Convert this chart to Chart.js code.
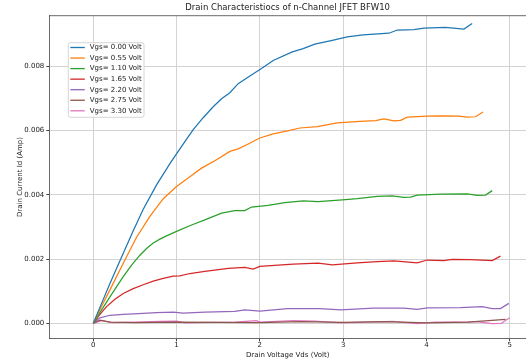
<!DOCTYPE html>
<html>
<head>
<meta charset="utf-8">
<script src="https://cdn.jsdelivr.net/npm/chart.js@4.4.1/dist/chart.umd.min.js"></script>
<style>
  body { margin: 0; background: #fff; }
  #wrap { width: 526px; height: 363px; }
</style>
</head>
<body>
<div id="wrap"><canvas id="myChart" width="526" height="363"></canvas></div>
<script>
// Vds (Volt) and Id (Amp), one pair per Vgs curve
var labels = ['Vgs= 0.00 Volt', 'Vgs= 0.55 Volt', 'Vgs= 1.10 Volt', 'Vgs= 1.65 Volt',
              'Vgs= 2.20 Volt', 'Vgs= 2.75 Volt', 'Vgs= 3.30 Volt'];

var vds0 = [0, 0.1, 0.2, 0.36, 0.48, 0.6, 0.76, 0.92, 1.04, 1.2, 1.32, 1.44, 1.54, 1.64, 1.74, 1.88, 2.02, 2.16, 2.39, 2.52, 2.66, 2.87, 3.05, 3.24, 3.55, 3.65, 3.85, 3.97, 4.23, 4.45, 4.55];
var id0 = [0, 0.00062, 0.00124, 0.00218, 0.00288, 0.00355, 0.00431, 0.00497, 0.00543, 0.00603, 0.0064, 0.00674, 0.00699, 0.00718, 0.00746, 0.0077, 0.00793, 0.00818, 0.00845, 0.00855, 0.00869, 0.00881, 0.00892, 0.00898, 0.00903, 0.00913, 0.00914, 0.00919, 0.00921, 0.00916, 0.00933];

var vds1 = [0, 0.1, 0.2, 0.36, 0.52, 0.68, 0.84, 1.0, 1.16, 1.3, 1.48, 1.64, 1.74, 1.86, 2.0, 2.16, 2.32, 2.48, 2.69, 2.93, 3.2, 3.39, 3.49, 3.61, 3.69, 3.77, 4.01, 4.19, 4.39, 4.49, 4.59, 4.68];
var id1 = [0, 0.00053, 0.00104, 0.00187, 0.00268, 0.00333, 0.00388, 0.00426, 0.00456, 0.00483, 0.00509, 0.00535, 0.00543, 0.00558, 0.00577, 0.0059, 0.00598, 0.00608, 0.00612, 0.00624, 0.00629, 0.00631, 0.00636, 0.0063, 0.00632, 0.00642, 0.00645, 0.00646, 0.00645, 0.00642, 0.00643, 0.00658];

var vds2 = [0, 0.1, 0.2, 0.36, 0.46, 0.56, 0.64, 0.72, 0.8, 0.88, 1.0, 1.18, 1.34, 1.54, 1.7, 1.82, 1.9, 2.1, 2.3, 2.52, 2.7, 2.99, 3.17, 3.41, 3.59, 3.73, 3.81, 3.89, 4.17, 4.49, 4.61, 4.71, 4.79];
var id2 = [0, 0.00042, 0.00082, 0.00145, 0.00181, 0.00212, 0.00233, 0.0025, 0.00262, 0.00272, 0.00286, 0.00306, 0.00322, 0.00343, 0.00351, 0.00351, 0.00362, 0.00367, 0.00376, 0.00381, 0.00379, 0.00384, 0.00388, 0.00395, 0.00397, 0.00392, 0.00393, 0.00399, 0.00402, 0.00403, 0.00398, 0.00399, 0.00413];

var vds3 = [0, 0.08, 0.16, 0.26, 0.36, 0.48, 0.6, 0.72, 0.84, 0.96, 1.04, 1.16, 1.34, 1.62, 1.82, 1.92, 2.0, 2.4, 2.7, 2.87, 3.17, 3.41, 3.61, 3.89, 4.01, 4.21, 4.31, 4.53, 4.79, 4.89];
var id3 = [0, 0.00028, 0.00052, 0.00075, 0.00093, 0.00108, 0.0012, 0.00131, 0.0014, 0.00147, 0.00148, 0.00155, 0.00162, 0.00171, 0.00174, 0.00169, 0.00177, 0.00184, 0.00187, 0.00182, 0.00188, 0.00192, 0.00194, 0.00188, 0.00197, 0.00195, 0.00199, 0.00198, 0.00195, 0.00209];

var vds4 = [0, 0.08, 0.2, 0.36, 0.54, 0.76, 0.96, 1.08, 1.34, 1.7, 1.82, 2.0, 2.33, 2.72, 2.97, 3.36, 3.73, 3.89, 4.01, 4.41, 4.67, 4.79, 4.89, 4.99];
var id4 = [0, 0.00017, 0.00025, 0.00028, 0.0003, 0.00033, 0.00035, 0.00032, 0.00035, 0.00037, 0.00042, 0.00038, 0.00046, 0.00046, 0.00042, 0.00047, 0.00047, 0.00043, 0.00048, 0.00049, 0.00052, 0.00046, 0.00046, 0.00062];

var vds5 = [0, 0.08, 0.2, 0.5, 1.0, 1.5, 2.0, 2.5, 3.0, 3.5, 4.0, 4.5, 4.95];
var id5 = [0, 0.0001, 0.00004, 0.00002, 0.00004, 0.00003, 0.00002, 0.00005, 0.00003, 0.00005, 0.00001, 0.00004, 0.00012];

var vds6 = [0, 0.1, 0.24, 0.5, 0.8, 1.0, 1.1, 1.4, 1.7, 1.96, 2.0, 2.4, 2.66, 2.97, 3.3, 3.6, 3.89, 4.1, 4.5, 4.6, 4.79, 4.9, 5.0];
var id6 = [0, 0.00008, 0.00002, 0.00004, 0.00006, 0.00007, 0.00001, 0.00003, 0.00004, 0.00008, 0.00004, 0.00008, 0.00007, 0.00001, 0.00004, 0.00006, -0.00001, 0.00004, 0.00004, 0.00005, -0.00001, 0, 0.00017];

var xTicks = [0, 1, 2, 3, 4, 5];
var yTicks = [0, 0.002, 0.004, 0.006, 0.008];

var colors = ['#1f77b4', '#ff7f0e', '#2ca02c', '#d62728', '#9467bd', '#8c564b', '#e377c2'];
var vdsAll = [vds0, vds1, vds2, vds3, vds4, vds5, vds6];
var idAll = [id0, id1, id2, id3, id4, id5, id6];

var datasets = [];
for (var i = 0; i < labels.length; i++) {
  var pts = [];
  for (var j = 0; j < vdsAll[i].length; j++) {
    pts.push({ x: vdsAll[i][j], y: idAll[i][j] });
  }
  datasets.push({
    label: labels[i],
    data: pts,
    borderColor: colors[i],
    backgroundColor: colors[i],
    borderWidth: 1.25,
    pointRadius: 0,
    fill: false,
    tension: 0
  });
}

var FONT = 'DejaVu Sans';
var txt = '#222';

// legend box drawn inside the plot, top left, like matplotlib
var boxLegend = {
  id: 'boxLegend',
  afterDatasetsDraw: function (chart) {
    var ctx = chart.ctx;
    var x0 = 68.3, y0 = 42.7, w = 75.7, h = 74.6, step = 10.55;
    ctx.save();
    ctx.beginPath();
    ctx.roundRect(x0, y0, w, h, 2);
    ctx.fillStyle = 'rgba(255,255,255,0.85)';
    ctx.fill();
    ctx.strokeStyle = '#d6d6d6';
    ctx.lineWidth = 1;
    ctx.stroke();
    ctx.font = '7px "' + FONT + '"';
    ctx.textBaseline = 'middle';
    chart.data.datasets.forEach(function (ds, k) {
      var yy = y0 + 4.8 + k * step;
      ctx.strokeStyle = ds.borderColor;
      ctx.lineWidth = 1.3;
      ctx.beginPath();
      ctx.moveTo(x0 + 2, yy);
      ctx.lineTo(x0 + 16.5, yy);
      ctx.stroke();
      ctx.fillStyle = txt;
      ctx.fillText(ds.label, x0 + 21.5, yy);
    });
    ctx.restore();
  },
  // top spine
  afterDraw: function (chart) {
    var a = chart.chartArea, ctx = chart.ctx;
    ctx.save();
    ctx.strokeStyle = '#444';
    ctx.lineWidth = 0.8;
    ctx.beginPath();
    ctx.moveTo(a.left, a.top);
    ctx.lineTo(a.right, a.top);
    ctx.stroke();
    ctx.restore();
  }
};

var ctx = document.getElementById('myChart').getContext('2d');
var chart = new Chart(ctx, {
  type: 'line',
  data: { datasets: datasets },
  plugins: [boxLegend],
  options: {
    responsive: false,
    animation: false,
    layout: { padding: 0 },
    plugins: {
      legend: { display: false },
      tooltip: { enabled: false },
      title: {
        display: true,
        text: 'Drain Characteristiocs of n-Channel JFET BFW10',
        color: txt,
        fullSize: false,
        font: { family: FONT, size: 8.5, weight: 'normal' },
        padding: { top: 2.5, bottom: 3 }
      }
    },
    scales: {
      x: {
        type: 'linear',
        min: -0.528,
        max: 5.196,
        afterFit: function (s) { s.height = 24.7; },
        afterBuildTicks: function (s) { s.ticks = xTicks.map(function (v) { return { value: v }; }); },
        ticks: {
          color: txt,
          font: { family: FONT, size: 7 },
          padding: 0,
          maxRotation: 0,
          callback: function (v) { return String(v); }
        },
        grid: { color: '#d3d3d3', lineWidth: 1, tickLength: 3, tickColor: '#444' },
        border: { color: '#444', width: 0.8 },
        title: {
          display: true,
          text: 'Drain Voltage Vds (Volt)',
          color: txt,
          font: { family: FONT, size: 7 },
          padding: { top: 0, bottom: 3.5 }
        }
      },
      y: {
        min: -0.000467,
        max: 0.009576,
        afterFit: function (s) { s.width = 49.3; },
        afterBuildTicks: function (s) { s.ticks = yTicks.map(function (v) { return { value: v }; }); },
        ticks: {
          color: txt,
          font: { family: FONT, size: 7 },
          padding: 2,
          callback: function (v) { return v.toFixed(3); }
        },
        grid: { color: '#d3d3d3', lineWidth: 1, tickLength: 3, tickColor: '#444' },
        border: { color: '#444', width: 0.8 },
        title: {
          display: true,
          text: 'Drain Current Id (Amp)',
          color: txt,
          font: { family: FONT, size: 7 },
          padding: { top: 15.5, bottom: 0 }
        }
      }
    }
  }
});
</script>
</body>
</html>
